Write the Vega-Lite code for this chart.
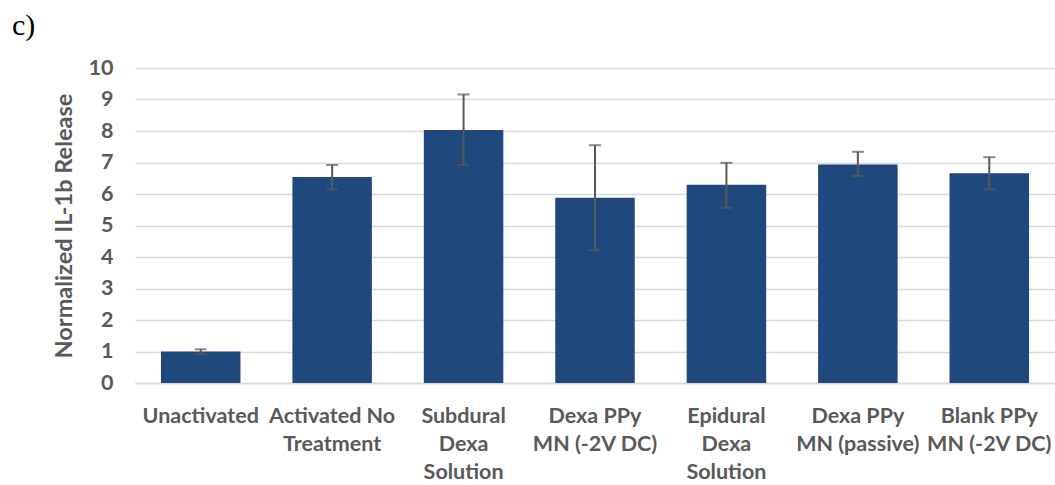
{
  "$schema": "https://vega.github.io/schema/vega-lite/v6.json",
  "width": 920,
  "height": 315,
  "autosize": "none",
  "padding": {"left": 135, "top": 68, "right": 0, "bottom": 102},
  "background": "white",
  "title": {
    "text": "c)",
    "anchor": "start",
    "frame": "group",
    "dx": -123,
    "offset": 16,
    "font": "Liberation Serif",
    "fontSize": 30,
    "fontWeight": "normal",
    "color": "#000000"
  },
  "config": {
    "view": {"stroke": null},
    "axis": {
      "labelFont": "Lato",
      "titleFont": "Lato",
      "labelFontWeight": "bold",
      "titleFontWeight": "bold",
      "labelColor": "#595959",
      "titleColor": "#595959",
      "labelFontSize": 21.5,
      "titleFontSize": 23.5
    },
    "axisY": {
      "values": [0, 1, 2, 3, 4, 5, 6, 7, 8, 9, 10],
      "labelOverlap": false,
      "domain": false,
      "ticks": false,
      "labelPadding": 22,
      "titlePadding": 12,
      "gridColor": "#d9d9d9",
      "gridWidth": 1.5
    }
  },
  "data": {
    "values": [
      {"group": "Unactivated", "mean": 1.0, "lo": 0.92, "hi": 1.07},
      {"group": "Activated No|Treatment", "mean": 6.54, "lo": 6.15, "hi": 6.92},
      {"group": "Subdural|Dexa|Solution", "mean": 8.03, "lo": 6.92, "hi": 9.16},
      {"group": "Dexa PPy|MN (-2V DC)", "mean": 5.88, "lo": 4.22, "hi": 7.55},
      {"group": "Epidural|Dexa|Solution", "mean": 6.29, "lo": 5.56, "hi": 6.99},
      {"group": "Dexa PPy|MN (passive)", "mean": 6.94, "lo": 6.57, "hi": 7.34},
      {"group": "Blank PPy|MN (-2V DC)", "mean": 6.66, "lo": 6.15, "hi": 7.17}
    ]
  },
  "encoding": {
    "x": {
      "field": "group",
      "type": "nominal",
      "sort": null,
      "scale": {"paddingInner": 0.395, "paddingOuter": 0.1975},
      "axis": {
        "title": null,
        "labelAngle": 0,
        "labelExpr": "split(datum.label, '|')",
        "labelLineHeight": 28,
        "labelPadding": 22,
        "labelLimit": 200,
        "labelOverlap": false,
        "ticks": false,
        "domainColor": "#d9d9d9",
        "domainWidth": 1.5
      }
    }
  },
  "layer": [
    {
      "mark": {"type": "bar", "color": "#1F497D"},
      "encoding": {
        "y": {
          "field": "mean",
          "type": "quantitative",
          "scale": {"domain": [0, 10], "nice": false},
          "axis": {"title": "Normalized IL-1b Release", "values": [0, 1, 2, 3, 4, 5, 6, 7, 8, 9, 10]}
        }
      }
    },
    {
      "mark": {"type": "rule", "color": "#595959", "strokeWidth": 2},
      "encoding": {
        "y": {"field": "lo", "type": "quantitative", "axis": {"title": "Normalized IL-1b Release", "values": [0, 1, 2, 3, 4, 5, 6, 7, 8, 9, 10]}},
        "y2": {"field": "hi"}
      }
    },
    {
      "mark": {"type": "tick", "color": "#595959", "size": 12, "thickness": 2},
      "encoding": {
        "y": {"field": "lo", "type": "quantitative", "axis": {"title": "Normalized IL-1b Release", "values": [0, 1, 2, 3, 4, 5, 6, 7, 8, 9, 10]}}
      }
    },
    {
      "mark": {"type": "tick", "color": "#595959", "size": 12, "thickness": 2},
      "encoding": {
        "y": {"field": "hi", "type": "quantitative", "axis": {"title": "Normalized IL-1b Release", "values": [0, 1, 2, 3, 4, 5, 6, 7, 8, 9, 10]}}
      }
    }
  ]
}
